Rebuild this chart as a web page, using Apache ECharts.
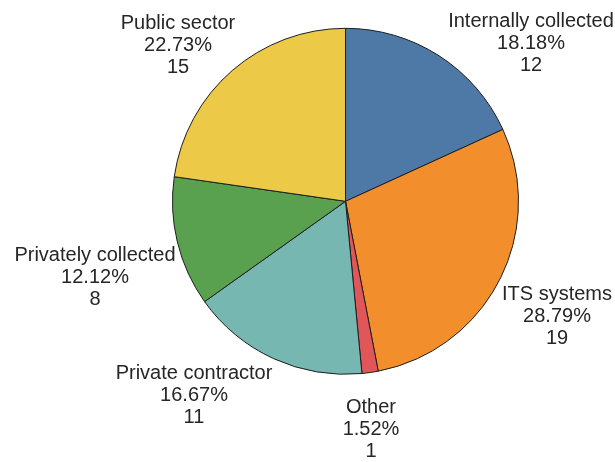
<!DOCTYPE html>
<html>
<head>
<meta charset="utf-8">
<script src="https://cdn.jsdelivr.net/npm/echarts@6/dist/echarts.min.js"></script>
<style>
  html, body { margin: 0; padding: 0; background: #ffffff; }
  #chart { width: 615px; height: 462px; }
</style>
</head>
<body>
<div id="chart"></div>
<script>
// Data sources, clockwise from 12 o'clock
const categories = ['Internally collected', 'ITS systems', 'Other', 'Private contractor', 'Privately collected', 'Public sector'];
const counts = [12, 19, 1, 11, 8, 15];
const sliceColors = ['#4e79a7', '#f28e2b', '#e15759', '#76b7b2', '#59a14f', '#edc948'];

// Where each label block sits (centre of the three-line text block)
const labelSpots = [[531, 43], [557, 316], [371, 429], [194, 395], [95, 277], [178, 45]];

const total = counts.reduce((a, b) => a + b, 0);

const chart = echarts.init(document.getElementById('chart'), null, { renderer: 'canvas' });

chart.setOption({
  animation: false,
  backgroundColor: '#ffffff',
  series: [{
    type: 'pie',
    center: [345.5, 201.3],
    radius: 173,
    startAngle: 90,
    clockwise: true,
    avoidLabelOverlap: false,
    data: categories.map((name, i) => ({
      name: name,
      value: counts[i],
      itemStyle: { color: sliceColors[i] }
    })),
    itemStyle: { borderColor: '#1e1e1e', borderWidth: 1 },
    emphasis: { disabled: true },
    label: {
      show: true,
      position: 'outside',
      // plain rounding of each share (not forced to sum to 100)
      formatter: function (p) {
        return p.name + '\n' + (p.value / total * 100).toFixed(2) + '%\n' + p.value;
      },
      fontFamily: '"Liberation Sans", Arial, sans-serif',
      fontSize: 20,
      lineHeight: 22,
      color: '#262626',
      align: 'center'
    },
    labelLine: { show: false },
    labelLayout: function (params) {
      const p = labelSpots[params.dataIndex];
      return { x: p[0], y: p[1], align: 'center', verticalAlign: 'middle' };
    }
  }]
});
</script>
</body>
</html>
